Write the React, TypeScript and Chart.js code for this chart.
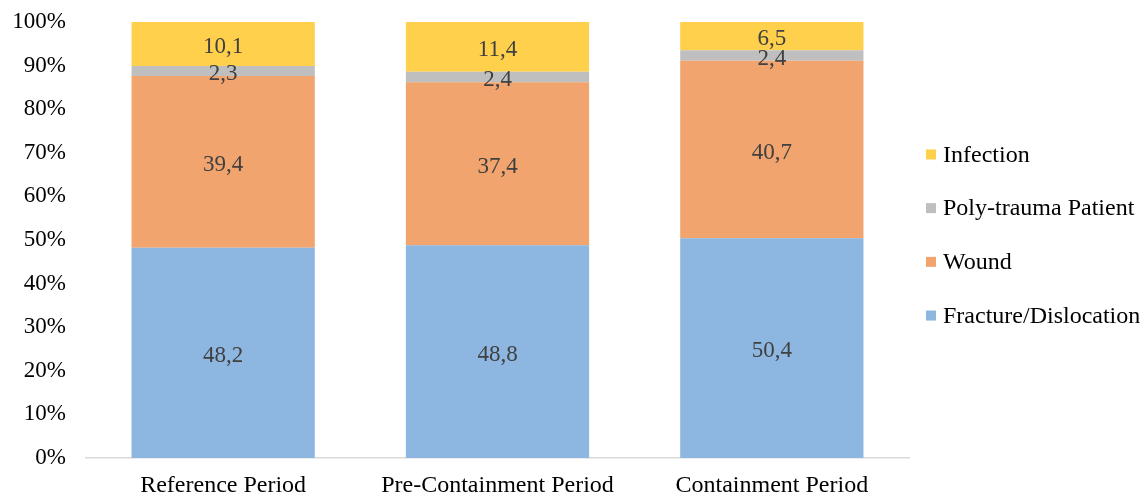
import React, { useEffect, useRef } from "react";
import { Chart, registerables } from "chart.js";

Chart.register(...registerables);

const categories = ["Reference Period", "Pre-Containment Period", "Containment Period"];
const fractureDislocation = [48.2, 48.8, 50.4];
const wound = [39.4, 37.4, 40.7];
const polyTrauma = [2.3, 2.4, 2.4];
const infection = [10.1, 11.4, 6.5];
const seriesNames = ["Fracture/Dislocation", "Wound", "Poly-trauma Patient", "Infection"];
const seriesColors = ["#8DB6E1", "#F1A46E", "#BFBFBF", "#FED04C"];
const yTickValues = [0, 10, 20, 30, 40, 50, 60, 70, 80, 90, 100];

const FONT = "'Liberation Serif', 'Times New Roman', serif";

const labelsPlugin = {
  id: "segLabels",
  afterDatasetsDraw(chart: any) {
    const ctx = chart.ctx;
    ctx.save();
    ctx.font = `23px ${FONT}`;
    ctx.fillStyle = "#404040";
    ctx.textAlign = "center";
    ctx.textBaseline = "middle";
    chart.data.datasets.forEach((ds: any, di: number) => {
      const meta = chart.getDatasetMeta(di);
      meta.data.forEach((bar: any, i: number) => {
        const v = ds.data[i];
        const y = (bar.y + bar.base) / 2;
        ctx.fillText(String(v.toFixed(1)).replace(".", ","), bar.x, y + 3);
      });
    });
    ctx.restore();
  },
};

const legendPlugin = {
  id: "customLegend",
  afterDraw(chart: any) {
    const ctx = chart.ctx;
    const area = chart.chartArea;
    const n = chart.data.datasets.length;
    const spacing = 53.7;
    const centerY = (area.top + area.bottom) / 2 - 5;
    const startY = centerY - ((n - 1) * spacing) / 2;
    ctx.save();
    ctx.font = `24px ${FONT}`;
    ctx.textBaseline = "middle";
    ctx.textAlign = "left";
    for (let k = 0; k < n; k++) {
      const di = n - 1 - k;
      const ds = chart.data.datasets[di];
      const y = startY + k * spacing;
      ctx.fillStyle = ds.backgroundColor;
      ctx.fillRect(926, y - 5, 10, 10);
      ctx.fillStyle = "#000000";
      ctx.fillText(ds.label, 943, y + 1);
    }
    ctx.restore();
  },
};

export default function App() {
  const ref = useRef<HTMLCanvasElement>(null);
  useEffect(() => {
    if (!ref.current) return;
    const seriesData = [fractureDislocation, wound, polyTrauma, infection];
    const chart = new Chart(ref.current, {
      type: "bar",
      data: {
        labels: categories,
        datasets: seriesNames.map((name, i) => ({
          label: name,
          data: seriesData[i],
          backgroundColor: seriesColors[i],
          borderWidth: 0,
          barPercentage: 0.668,
          categoryPercentage: 1,
        })),
      },
      options: {
        animation: false,
        responsive: false,
        maintainAspectRatio: false,
        layout: { padding: { left: 0, right: 239, top: 22, bottom: 0 } },
        plugins: { legend: { display: false }, tooltip: { enabled: false } },
        scales: {
          x: {
            stacked: true,
            grid: { display: false, drawTicks: false },
            border: { display: true, color: "#D9D9D9", width: 1.5 },
            ticks: { color: "#000", font: { family: FONT, size: 24 }, padding: 13, maxRotation: 0 },
            afterFit: (s: any) => { s.height = 41; s.paddingLeft = 0; s.paddingRight = 0; },
          },
          y: {
            stacked: true,
            min: 0,
            max: 100,
            afterBuildTicks: (s: any) => { s.ticks = yTickValues.map((v) => ({ value: v })); },
            grid: { display: false, drawTicks: false },
            border: { display: false },
            ticks: {
              color: "#000",
              font: { family: FONT, size: 23 },
              padding: 20,
              callback: (v: any) => `${v}%`,
            },
            afterFit: (s: any) => { s.width = 86; s.paddingTop = 0; s.paddingBottom = 0; },
          },
        },
      },
      plugins: [labelsPlugin, legendPlugin],
    });
    return () => chart.destroy();
  }, []);
  return (
    <div style={{ position: "fixed", left: 0, top: 0, width: 1148, height: 499, background: "#fff" }}>
      <canvas ref={ref} width={1148} height={499} style={{ width: 1148, height: 499 }} />
    </div>
  );
}
